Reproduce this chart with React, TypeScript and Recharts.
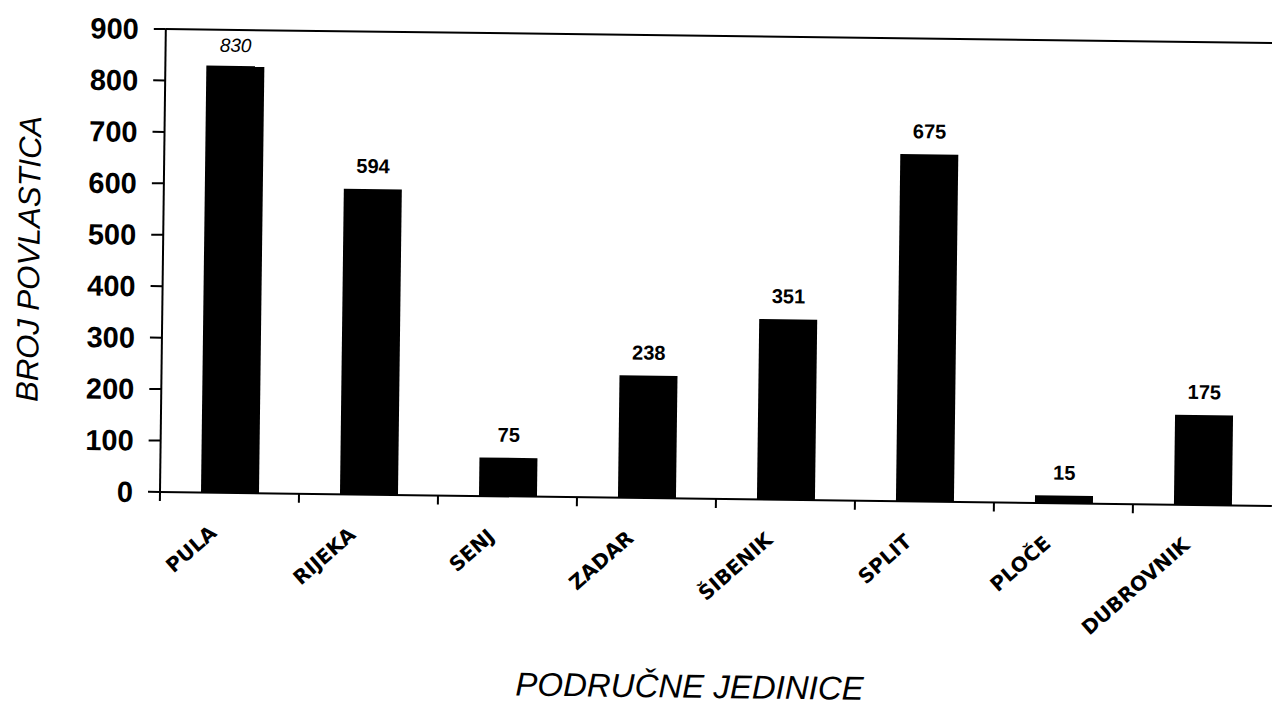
import React from 'react';
import { BarChart, Bar, XAxis, YAxis, ReferenceLine, LabelList, Label } from 'recharts';

const categories = ['PULA', 'RIJEKA', 'SENJ', 'ZADAR', 'ŠIBENIK', 'SPLIT', 'PLOČE', 'DUBROVNIK'];
const values = [830, 594, 75, 238, 351, 675, 15, 175];
const yTicks = [0, 100, 200, 300, 400, 500, 600, 700, 800, 900];
const yTitle = 'BROJ POVLASTICA';
const xTitle = 'PODRUČNE JEDINICE';

const W = 1272;
const H = 707;
const LEFT = 160;
const TOP = 29;
const BOTTOM = 215;
const BAND = (W - LEFT) / categories.length;
const ARIAL = '"Liberation Sans", Arial, sans-serif';

const data = categories.map((name, i) => ({ name, value: values[i] }));

const XTick = (props: any) => {
  const { x, y, payload } = props;
  const tx = x - 11;
  const ty = y + 42;
  return (
    <g>
      <line x1={x - BAND / 2} y1={y} x2={x - BAND / 2} y2={y + 9} stroke="#000" strokeWidth={2} />
      <text
        x={tx}
        y={ty}
        textAnchor="end"
        transform={`rotate(-42, ${tx}, ${ty})`}
        fontFamily='"DejaVu Sans", Verdana, sans-serif'
        fontWeight="bold"
        fontSize={20}
        fill="#000"
      >
        {payload.value}
      </text>
    </g>
  );
};

const ValueLabel = (props: any) => {
  const { x, y, width, value, index } = props;
  const first = index === 0;
  return (
    <text
      x={Number(x) + Number(width) / 2}
      y={Number(y) - (first ? 14 : 16)}
      textAnchor="middle"
      fontFamily={ARIAL}
      fontWeight={first ? 'normal' : 'bold'}
      fontStyle={first ? 'italic' : 'normal'}
      fontSize={first ? 19 : 20}
      fill="#000"
    >
      {value}
    </text>
  );
};

const YTitle = (props: any) => {
  const vb = props.viewBox || {};
  const cy = vb.y != null && vb.height != null ? vb.y + vb.height / 2 : (TOP + (H - BOTTOM)) / 2;
  const cx = 26;
  return (
    <text
      x={cx}
      y={cy}
      transform={`rotate(-90, ${cx}, ${cy})`}
      textAnchor="middle"
      dominantBaseline="central"
      fontFamily={ARIAL}
      fontStyle="italic"
      fontSize={31}
      fill="#000"
    >
      {yTitle}
    </text>
  );
};

const XTitle = (props: any) => {
  const vb = props.viewBox || {};
  const cx = vb.x != null && vb.width != null ? vb.x + vb.width / 2 - 24 : 692;
  return (
    <text x={cx} y={691} textAnchor="middle" fontFamily={ARIAL} fontStyle="italic" fontSize={33} fill="#000">
      {xTitle}
    </text>
  );
};

export default function App() {
  return (
    <div
      style={{
        position: 'absolute',
        left: 0,
        top: 0,
        width: W,
        height: H,
        background: '#fff',
        transform: 'rotate(0.72deg)',
        transformOrigin: `${LEFT}px ${H - BOTTOM}px`,
      }}
    >
      <BarChart width={W} height={H} data={data} margin={{ top: TOP, right: 0, bottom: 0, left: 0 }}>
        <XAxis
          dataKey="name"
          interval={0}
          height={BOTTOM}
          tickLine={false}
          tickSize={0}
          tickMargin={0}
          axisLine={{ stroke: '#000', strokeWidth: 2 }}
          tick={<XTick />}
        >
          <Label content={<XTitle />} />
        </XAxis>
        <YAxis
          width={LEFT}
          domain={[0, 900]}
          ticks={yTicks}
          interval={0}
          tickSize={12}
          tickMargin={15}
          axisLine={{ stroke: '#000', strokeWidth: 2 }}
          tickLine={{ stroke: '#000', strokeWidth: 2 }}
          tick={{ fontFamily: ARIAL, fontWeight: 'bold', fontSize: 29, fill: '#000' }}
        >
          <Label content={<YTitle />} />
        </YAxis>
        <ReferenceLine y={900} stroke="#000" strokeWidth={2} />
        <Bar dataKey="value" fill="#000" barSize={58} isAnimationActive={false}>
          <LabelList dataKey="value" content={<ValueLabel />} />
        </Bar>
      </BarChart>
    </div>
  );
}
